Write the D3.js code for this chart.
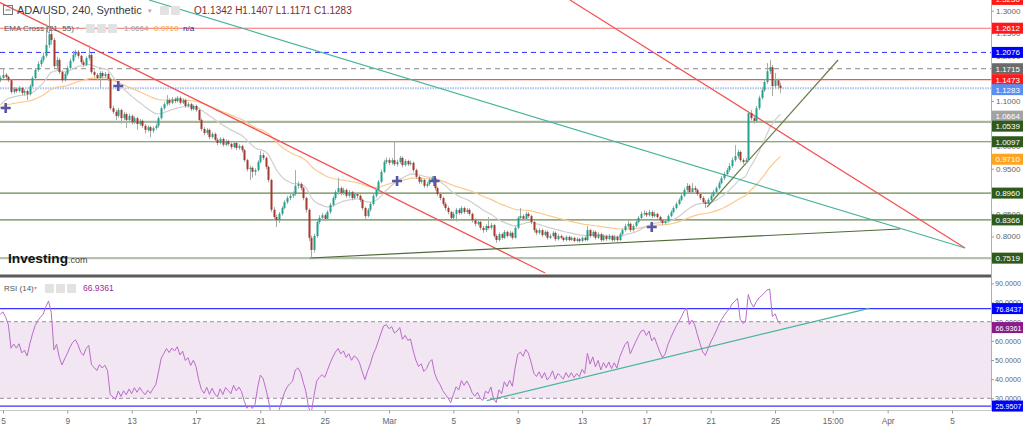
<!DOCTYPE html>
<html><head><meta charset="utf-8">
<script src="https://cdn.jsdelivr.net/npm/d3@7/dist/d3.min.js"></script>
<style>
html,body{margin:0;padding:0;background:#fff;overflow:hidden}
svg{display:block;font-family:"Liberation Sans",Arial,sans-serif}
</style></head>
<body><svg id="chart" width="1024" height="431"></svg>
<script>
// ================= DATA =================
const firstCandleTime = "2021-02-04T20:00:00Z";
const candleHours = 4;
// [open, high, low, close]
const candles = [
[1.146,1.156,1.142,1.151],[1.151,1.172,1.148,1.158],[1.158,1.162,1.149,1.153],[1.153,1.156,1.142,1.146],
[1.146,1.149,1.116,1.120],[1.120,1.131,1.116,1.127],[1.127,1.130,1.118,1.122],[1.122,1.133,1.119,1.129],
[1.129,1.131,1.113,1.118],[1.118,1.126,1.112,1.122],[1.122,1.125,1.102,1.115],[1.115,1.137,1.112,1.133],
[1.133,1.155,1.130,1.151],[1.151,1.173,1.147,1.169],[1.169,1.188,1.165,1.182],[1.182,1.197,1.176,1.191],
[1.191,1.208,1.186,1.200],[1.200,1.270,1.196,1.224],[1.224,1.292,1.218,1.248],[1.248,1.262,1.225,1.235],
[1.235,1.240,1.172,1.177],[1.177,1.198,1.168,1.191],[1.191,1.195,1.160,1.164],[1.164,1.168,1.141,1.146],
[1.146,1.164,1.143,1.160],[1.160,1.178,1.156,1.173],[1.173,1.194,1.170,1.189],[1.189,1.211,1.185,1.202],
[1.202,1.214,1.197,1.209],[1.209,1.213,1.194,1.200],[1.200,1.203,1.181,1.186],[1.186,1.191,1.175,1.180],
[1.180,1.199,1.177,1.195],[1.195,1.224,1.190,1.202],[1.202,1.206,1.160,1.164],[1.164,1.168,1.152,1.158],
[1.158,1.162,1.146,1.151],[1.151,1.166,1.129,1.162],[1.162,1.166,1.150,1.155],[1.155,1.164,1.151,1.160],
[1.160,1.163,1.144,1.149],[1.149,1.152,1.080,1.084],[1.084,1.090,1.071,1.076],[1.076,1.081,1.058,1.067],
[1.067,1.085,1.063,1.080],[1.080,1.083,1.050,1.062],[1.062,1.076,1.058,1.071],[1.071,1.074,1.040,1.058],
[1.058,1.072,1.054,1.067],[1.067,1.070,1.048,1.053],[1.053,1.066,1.049,1.062],[1.062,1.065,1.036,1.049],
[1.049,1.060,1.045,1.056],[1.056,1.059,1.040,1.045],[1.045,1.049,1.028,1.036],[1.036,1.046,1.032,1.042],
[1.042,1.045,1.020,1.034],[1.034,1.044,1.029,1.040],[1.040,1.050,1.036,1.045],[1.045,1.066,1.041,1.062],
[1.062,1.088,1.059,1.084],[1.084,1.098,1.080,1.093],[1.093,1.113,1.089,1.102],[1.102,1.106,1.091,1.096],
[1.096,1.109,1.093,1.104],[1.104,1.108,1.095,1.100],[1.100,1.111,1.097,1.107],[1.107,1.110,1.092,1.096],
[1.096,1.106,1.093,1.102],[1.102,1.105,1.085,1.089],[1.089,1.098,1.086,1.093],[1.093,1.096,1.078,1.082],
[1.082,1.092,1.079,1.089],[1.089,1.092,1.076,1.080],[1.080,1.083,1.054,1.058],[1.058,1.061,1.033,1.038],
[1.038,1.042,1.024,1.029],[1.029,1.040,1.025,1.036],[1.036,1.039,1.015,1.020],[1.020,1.031,1.017,1.027],
[1.027,1.030,1.009,1.014],[1.014,1.018,1.002,1.007],[1.007,1.020,1.004,1.016],[1.016,1.019,0.999,1.003],
[1.003,1.015,1.000,1.011],[1.011,1.014,1.001,1.005],[1.005,1.008,0.993,0.998],[0.998,1.011,0.995,1.007],
[1.007,1.010,0.991,0.996],[0.996,1.004,0.992,1.000],[1.000,1.003,0.986,0.991],[0.991,0.994,0.965,0.969],
[0.969,0.972,0.944,0.949],[0.949,0.957,0.925,0.952],[0.952,0.955,0.930,0.943],[0.943,0.951,0.935,0.947],
[0.947,0.969,0.944,0.965],[0.965,0.989,0.962,0.980],[0.980,0.985,0.969,0.974],[0.974,0.977,0.949,0.954],
[0.954,0.957,0.920,0.925],[0.925,0.928,0.854,0.859],[0.859,0.865,0.835,0.843],[0.843,0.848,0.821,0.836],
[0.836,0.854,0.830,0.850],[0.850,0.867,0.846,0.863],[0.863,0.880,0.860,0.876],[0.876,0.890,0.872,0.885],
[0.885,0.896,0.880,0.890],[0.890,0.900,0.885,0.894],[0.894,0.947,0.890,0.912],[0.912,0.922,0.906,0.916],
[0.916,0.920,0.902,0.907],[0.907,0.910,0.880,0.885],[0.885,0.888,0.853,0.859],[0.859,0.862,0.790,0.797],
[0.797,0.802,0.752,0.770],[0.770,0.806,0.764,0.801],[0.801,0.837,0.797,0.832],[0.832,0.847,0.827,0.841],
[0.841,0.852,0.836,0.847],[0.847,0.851,0.834,0.839],[0.839,0.858,0.835,0.854],[0.854,0.874,0.850,0.870],
[0.870,0.889,0.866,0.885],[0.885,0.903,0.881,0.898],[0.898,0.930,0.893,0.907],[0.907,0.911,0.891,0.896],
[0.896,0.908,0.892,0.903],[0.903,0.906,0.885,0.890],[0.890,0.903,0.886,0.898],[0.898,0.901,0.880,0.885],
[0.885,0.899,0.882,0.894],[0.894,0.897,0.885,0.890],[0.890,0.893,0.876,0.881],[0.881,0.884,0.858,0.863],
[0.863,0.866,0.839,0.845],[0.845,0.863,0.842,0.859],[0.859,0.876,0.855,0.872],[0.872,0.894,0.868,0.890],
[0.890,0.907,0.886,0.903],[0.903,0.925,0.899,0.921],[0.921,0.948,0.918,0.943],[0.943,0.970,0.940,0.965],
[0.965,0.975,0.960,0.969],[0.969,0.974,0.958,0.963],[0.963,0.974,0.959,0.969],[0.969,1.010,0.956,0.960],
[0.960,0.970,0.955,0.965],[0.965,0.978,0.961,0.974],[0.974,0.977,0.953,0.958],[0.958,0.971,0.955,0.967],
[0.967,0.970,0.956,0.960],[0.960,0.968,0.957,0.963],[0.963,0.966,0.942,0.947],[0.947,0.950,0.927,0.932],
[0.932,0.935,0.916,0.921],[0.921,0.930,0.917,0.925],[0.925,0.928,0.907,0.912],[0.912,0.921,0.908,0.916],
[0.916,0.930,0.912,0.925],[0.925,0.934,0.920,0.929],[0.929,0.932,0.902,0.907],[0.907,0.910,0.889,0.894],
[0.894,0.898,0.880,0.885],[0.885,0.888,0.867,0.872],[0.872,0.876,0.857,0.863],[0.863,0.867,0.849,0.854],
[0.854,0.857,0.834,0.841],[0.841,0.855,0.837,0.850],[0.850,0.863,0.833,0.859],[0.859,0.863,0.848,0.852],
[0.852,0.867,0.849,0.863],[0.863,0.866,0.850,0.854],[0.854,0.863,0.850,0.859],[0.859,0.862,0.846,0.850],
[0.850,0.853,0.831,0.836],[0.836,0.840,0.822,0.828],[0.828,0.837,0.824,0.832],[0.832,0.835,0.814,0.819],
[0.819,0.823,0.808,0.814],[0.814,0.827,0.810,0.823],[0.823,0.843,0.815,0.819],[0.819,0.830,0.815,0.825],
[0.825,0.828,0.797,0.801],[0.801,0.805,0.786,0.792],[0.792,0.809,0.789,0.805],[0.805,0.808,0.793,0.797],
[0.797,0.814,0.794,0.810],[0.810,0.813,0.797,0.801],[0.801,0.812,0.798,0.808],[0.808,0.811,0.793,0.797],
[0.797,0.823,0.795,0.819],[0.819,0.845,0.816,0.841],[0.841,0.863,0.837,0.845],[0.845,0.849,0.835,0.839],
[0.839,0.855,0.836,0.850],[0.850,0.854,0.841,0.845],[0.845,0.848,0.827,0.832],[0.832,0.835,0.809,0.814],
[0.814,0.818,0.803,0.808],[0.808,0.818,0.804,0.814],[0.814,0.817,0.799,0.803],[0.803,0.814,0.800,0.810],
[0.810,0.813,0.793,0.797],[0.797,0.806,0.794,0.801],[0.801,0.812,0.798,0.808],[0.808,0.811,0.790,0.794],
[0.794,0.805,0.791,0.801],[0.801,0.804,0.794,0.797],[0.797,0.800,0.788,0.792],[0.792,0.802,0.789,0.799],
[0.799,0.802,0.789,0.792],[0.792,0.800,0.790,0.797],[0.797,0.799,0.787,0.790],[0.790,0.798,0.787,0.794],
[0.794,0.797,0.786,0.790],[0.790,0.800,0.787,0.797],[0.797,0.800,0.789,0.792],[0.792,0.823,0.790,0.814],
[0.814,0.817,0.797,0.801],[0.801,0.814,0.798,0.810],[0.810,0.813,0.793,0.797],[0.797,0.809,0.794,0.805],
[0.805,0.808,0.788,0.792],[0.792,0.805,0.789,0.801],[0.801,0.804,0.790,0.794],[0.794,0.805,0.791,0.801],
[0.801,0.804,0.788,0.792],[0.792,0.803,0.789,0.799],[0.799,0.802,0.788,0.792],[0.792,0.809,0.790,0.805],
[0.805,0.818,0.802,0.814],[0.814,0.828,0.811,0.823],[0.823,0.836,0.819,0.828],[0.828,0.831,0.810,0.814],
[0.814,0.827,0.811,0.823],[0.823,0.836,0.820,0.832],[0.832,0.845,0.829,0.841],[0.841,0.855,0.838,0.850],
[0.850,0.858,0.846,0.852],[0.852,0.856,0.843,0.847],[0.847,0.859,0.844,0.854],[0.854,0.858,0.841,0.845],
[0.845,0.855,0.842,0.850],[0.850,0.853,0.839,0.843],[0.843,0.846,0.832,0.836],[0.836,0.839,0.825,0.830],
[0.830,0.838,0.826,0.834],[0.834,0.849,0.831,0.845],[0.845,0.858,0.842,0.854],[0.854,0.867,0.851,0.863],
[0.863,0.876,0.860,0.872],[0.872,0.885,0.869,0.881],[0.881,0.895,0.878,0.890],[0.890,0.908,0.887,0.903],
[0.903,0.918,0.899,0.912],[0.912,0.915,0.894,0.898],[0.898,0.918,0.895,0.907],[0.907,0.912,0.898,0.903],
[0.903,0.906,0.890,0.894],[0.894,0.897,0.881,0.885],[0.885,0.889,0.872,0.876],[0.876,0.880,0.863,0.872],
[0.872,0.885,0.869,0.881],[0.881,0.894,0.878,0.890],[0.890,0.903,0.887,0.898],[0.898,0.911,0.895,0.907],
[0.907,0.923,0.904,0.918],[0.918,0.934,0.915,0.929],[0.929,0.943,0.925,0.938],[0.938,0.952,0.934,0.947],
[0.947,0.962,0.943,0.956],[0.956,0.975,0.952,0.969],[0.969,1.002,0.965,0.978],[0.978,0.992,0.973,0.987],
[0.987,0.990,0.964,0.969],[0.969,0.973,0.960,0.965],[0.965,0.974,0.961,0.969],[0.969,1.078,0.965,1.073],
[1.073,1.080,1.057,1.062],[1.062,1.067,1.050,1.056],[1.056,1.089,1.052,1.084],[1.084,1.112,1.080,1.107],
[1.107,1.130,1.103,1.124],[1.124,1.148,1.120,1.142],[1.142,1.184,1.138,1.166],[1.166,1.191,1.160,1.175],
[1.175,1.180,1.111,1.133],[1.133,1.162,1.128,1.146],[1.146,1.150,1.126,1.1342],[1.1342,1.1407,1.1171,1.1283]
];
const emaPeriods = [21, 55];
const emaSeeds = [1.085, 1.083];       // indicator values just before the first candle
const rsiPeriod = 14;
const rsiSeed = [0.0075, 0.0028];      // average gain / loss before the first candle
const crossIndex = [2, 44, 148, 162, 243];
const crossPrice = [1.0845, 1.1332, 0.9228, 0.9228, 0.8209];

const levelValues = [1.2612, 1.2076, 1.1715, 1.1473, 1.1283, 1.0539, 1.0097, 0.8960, 0.8366, 0.7519];
const axisLabelValues = [1.3250, 1.2612, 1.2076, 1.1715, 1.1473, 1.1283, 1.0664, 1.0539, 1.0097, 0.9710, 0.8960, 0.8366, 0.7519];
const priceTicks = [0.75, 0.80, 0.85, 0.90, 0.95, 1.00, 1.05, 1.10, 1.15, 1.20, 1.25, 1.30];
const rsiTicks = [30, 40, 50, 60, 70, 80, 90];
const rsiBand = [30, 70];
const rsiLevelValues = [76.8437, 25.9507];
const rsiLabelValues = [76.8437, 66.9361, 25.9507];

const trendFrom = ["2021-02-04T12:00Z", "2021-03-12T06:00Z", "2021-02-14T02:00Z", "2021-02-24T02:00Z", "2021-03-20T18:30Z"];
const trendFromPrice = [1.3237, 1.3237, 1.3237, 0.7522, 0.8652];
const trendTo = ["2021-03-10T17:00Z", "2021-04-05T19:30Z", "2021-04-05T19:30Z", "2021-04-01T18:30Z", "2021-03-28T22:00Z"];
const trendToPrice = [0.719, 0.7744, 0.7744, 0.8165, 1.1908];
const rsiTrendFrom = ["2021-03-07T01:40Z", 28.75];
const rsiTrendTo = ["2021-03-30T20:10Z", 77.0];

const timeTickDates = ["2021-02-05", "2021-02-09", "2021-02-13", "2021-02-17", "2021-02-21", "2021-02-25", "2021-03-01", "2021-03-05", "2021-03-09", "2021-03-13", "2021-03-17", "2021-03-21", "2021-03-25", "2021-03-28T14:00Z", "2021-04-01", "2021-04-05"];
const timeTickLabels = ["5", "9", "13", "17", "21", "25", "Mar", "5", "9", "13", "17", "21", "25", "15:00", "Apr", "5"];

const title = "ADA/USD, 240, Synthetic";
const ohlcText = "O1.1342 H1.1407 L1.1171 C1.1283";
const emaLegend = ["EMA Cross (21, 55)", "1.0664", "0.9710", "n/a"];
const rsiLegend = ["RSI (14)", "66.9361"];

// ================= STYLES =================
const levelStyles = [
  {c:"#f46e6e", w:1.1}, {c:"#2f2fff", w:1, d:"5,4"}, {c:"#8a8a8a", w:1, d:"5,4"}, {c:"#f25656", w:1.2},
  {c:"#a9c3f3", w:2, d:"1.5,1"}, {c:"#a7b59f", w:2.2}, {c:"#67884f", w:1.2}, {c:"#67884f", w:1.2},
  {c:"#67884f", w:1.2}, {c:"#b6c1ae", w:2.2}
];
const labelColors = ["#ff1a1a","#ff1a1a","#0000ff","#6b6b6b","#ff1a1a","#5a8ef0","#a3a3a3","#2f5a1b","#2f5a1b","#ffa41f","#2f5a1b","#2f5a1b","#2f5a1b"];
const rsiLabelColors = ["#0000ff", "#8c1a8c", "#0000ff"];
const trendColors = ["#f45050", "#f45050", "#48b59c", "#4d6b3a", "#6b7f4c"];
const UP = "#21a190", DOWN = "#a5392c", WICK = "#a7aca6";

// ================= SCALES =================
const svg = d3.select("#chart");
const PLOT_R = 991;
const x = d3.scaleUtc().domain([new Date("2021-02-05T00:00Z"), new Date("2021-04-05T00:00Z")]).range([3, 952]);
const y = d3.scaleLinear().domain([0.75, 1.30]).range([259.0, 10.7]);
const yr = d3.scaleLinear().domain([30, 70]).range([398.3, 321.7]);

const t0 = new Date(firstCandleTime).getTime();
const data = candles.map((d, i) => ({t: new Date(t0 + i * candleHours * 3600e3), o: d[0], h: d[1], l: d[2], c: d[3]}));

function ema(seed, n) { const a = 2 / (n + 1); let e = seed; return data.map(d => (e = e + a * (d.c - e))); }
const ema21 = ema(emaSeeds[0], emaPeriods[0]);
const ema55 = ema(emaSeeds[1], emaPeriods[1]);
let ag = rsiSeed[0], al = rsiSeed[1], prev = data[0].o;
const rsi = data.map(d => { const ch = d.c - prev; prev = d.c;
  ag = (ag * (rsiPeriod - 1) + Math.max(ch, 0)) / rsiPeriod;
  al = (al * (rsiPeriod - 1) + Math.max(-ch, 0)) / rsiPeriod;
  return 100 - 100 / (1 + ag / al); });

const defs = svg.append("defs");
defs.append("clipPath").attr("id", "cm").append("rect").attr("x", 0).attr("y", 0).attr("width", PLOT_R).attr("height", 273.5);
defs.append("clipPath").attr("id", "cr").append("rect").attr("x", 0).attr("y", 278).attr("width", PLOT_R).attr("height", 132);

// ================= MAIN PANEL =================
const main = svg.append("g").attr("clip-path", "url(#cm)");
main.selectAll("line.lvl").data(levelValues).join("line")
  .attr("x1", 0).attr("x2", PLOT_R).attr("y1", d => y(d)).attr("y2", d => y(d))
  .attr("stroke", (d, i) => levelStyles[i].c).attr("stroke-width", (d, i) => levelStyles[i].w)
  .attr("stroke-dasharray", (d, i) => levelStyles[i].d || null);

const lineGen = (arr) => d3.line().x((d, i) => x(data[i].t)).y(d => y(d))(arr);
main.append("path").attr("d", lineGen(ema55)).attr("fill", "none").attr("stroke", "#fcc98c").attr("stroke-width", 1.2);
main.append("path").attr("d", lineGen(ema21)).attr("fill", "none").attr("stroke", "#cfcfcf").attr("stroke-width", 1.2);

trendFrom.forEach((f, i) => {
  main.append("line").attr("x1", x(new Date(f))).attr("y1", y(trendFromPrice[i]))
    .attr("x2", x(new Date(trendTo[i]))).attr("y2", y(trendToPrice[i]))
    .attr("stroke", trendColors[i]).attr("stroke-width", 1.2);
});

const cg = main.append("g");
cg.selectAll("line").data(data).join("line")
  .attr("x1", d => Math.round(x(d.t)) + 0.5).attr("x2", d => Math.round(x(d.t)) + 0.5)
  .attr("y1", d => y(d.h)).attr("y2", d => y(d.l)).attr("stroke", WICK).attr("stroke-width", 1);
cg.selectAll("rect").data(data).join("rect")
  .attr("x", d => Math.round(x(d.t)) - 0.5).attr("width", 2)
  .attr("y", d => y(Math.max(d.o, d.c))).attr("height", d => Math.max(1, Math.abs(y(d.o) - y(d.c))))
  .attr("fill", d => d.c >= d.o ? UP : DOWN);

crossIndex.forEach((ci, k) => {
  const cx = x(data[ci].t), cy = y(crossPrice[k]);
  main.append("path").attr("d", `M${cx-5},${cy}H${cx+5}M${cx},${cy-5}V${cy+5}`)
    .attr("stroke", "#5656a8").attr("stroke-width", 2.6);
});

// ================= RSI PANEL =================
const rp = svg.append("g").attr("clip-path", "url(#cr)");
rp.append("rect").attr("x", 0).attr("width", PLOT_R).attr("y", yr(rsiBand[1])).attr("height", yr(rsiBand[0]) - yr(rsiBand[1])).attr("fill", "#f2e6f2");
rp.selectAll("line.b").data(rsiBand).join("line").attr("x1", 0).attr("x2", PLOT_R)
  .attr("y1", d => yr(d)).attr("y2", d => yr(d)).attr("stroke", "#9d8e9d").attr("stroke-dasharray", "4,3");
rp.selectAll("line.l").data(rsiLevelValues).join("line").attr("x1", 0).attr("x2", PLOT_R)
  .attr("y1", d => yr(d)).attr("y2", d => yr(d)).attr("stroke", "#3535ff").attr("stroke-width", 1.3);
rp.append("line").attr("x1", x(new Date(rsiTrendFrom[0]))).attr("y1", yr(rsiTrendFrom[1]))
  .attr("x2", x(new Date(rsiTrendTo[0]))).attr("y2", yr(rsiTrendTo[1])).attr("stroke", "#48b59c").attr("stroke-width", 1.2);
rp.append("path").attr("d", d3.line().x((d, i) => x(data[i].t)).y(d => yr(d))(rsi))
  .attr("fill", "none").attr("stroke", "#bb6ccb").attr("stroke-width", 1);

// separator & frame
svg.append("rect").attr("x", 0).attr("y", 274.5).attr("width", PLOT_R).attr("height", 3).attr("fill", "#5a5a5a");
svg.append("line").attr("x1", PLOT_R + 0.5).attr("x2", PLOT_R + 0.5).attr("y1", 0).attr("y2", 411).attr("stroke", "#b0b0b0");
svg.append("line").attr("x1", 0).attr("x2", PLOT_R).attr("y1", 410.5).attr("y2", 410.5).attr("stroke", "#c8c8c8");

// ================= AXES =================
const fmt4 = d3.format(".4f");
const ay = svg.append("g").attr("transform", `translate(${PLOT_R},0)`)
  .call(d3.axisRight(y).tickValues(priceTicks).tickFormat(fmt4).tickSize(3).tickPadding(2));
const ar = svg.append("g").attr("transform", `translate(${PLOT_R},0)`)
  .call(d3.axisRight(yr).tickValues(rsiTicks).tickFormat(fmt4).tickSize(3).tickPadding(1));
[ay, ar].forEach(g => { g.select(".domain").remove(); g.selectAll("line").attr("stroke", "#999");
  g.selectAll("text").attr("fill", "#666").attr("font-family", "Liberation Sans, Arial"); });
ay.selectAll("text").attr("font-size", 8);
ar.selectAll("text").attr("font-size", 7.2);

const ax = svg.append("g").attr("transform", "translate(0,410.5)")
  .call(d3.axisBottom(x).tickValues(timeTickDates.map(d => new Date(d.length > 10 ? d : d + "T00:00Z")))
    .tickFormat((d, i) => timeTickLabels[i]).tickSize(3).tickPadding(5));
ax.select(".domain").remove();
ax.selectAll("line").attr("stroke", "#999");
ax.selectAll("text").attr("fill", "#666").attr("font-size", 8.3).attr("font-family", "Liberation Sans, Arial");

// value labels on the axis
function drawLabels(vals, scale, colors, minGap, fs) {
  const items = vals.map((v, i) => ({v, c: colors[i], y: scale(v)})).sort((a, b) => a.y - b.y);
  for (let k = 1; k < items.length; k++) if (items[k].y - items[k - 1].y < minGap) items[k].y = items[k - 1].y + minGap;
  const g = svg.append("g");
  items.forEach(it => {
    g.append("rect").attr("x", PLOT_R + 1).attr("y", it.y - 5.5).attr("width", 31).attr("height", 11).attr("fill", it.c);
    g.append("text").attr("x", PLOT_R + 4.5).attr("y", it.y + 3).attr("fill", "#fff").attr("font-size", fs).text(fmt4(it.v));
  });
}
drawLabels(axisLabelValues, y, labelColors, 10, 8);
drawLabels(rsiLabelValues, yr, rsiLabelColors, 10, 7.2);

// ================= LEGENDS =================
function icons(g, x0, yy, n) {
  for (let k = 0; k < n; k++) g.append("rect").attr("x", x0 + k * 11).attr("y", yy - 8).attr("width", 9).attr("height", 9).attr("rx", 1).attr("fill", "#e2e2e2");
}
const lg = svg.append("g");
lg.append("rect").attr("x", 3.5).attr("y", 5.5).attr("width", 9).attr("height", 9).attr("fill", "none").attr("stroke", "#777");
lg.append("line").attr("x1", 5.5).attr("x2", 10.5).attr("y1", 10).attr("y2", 10).attr("stroke", "#777");
lg.append("text").attr("x", 17).attr("y", 14).attr("font-size", 11).attr("fill", "#3a3a3a").text(title);
lg.append("text").attr("x", 148).attr("y", 13).attr("font-size", 7).attr("fill", "#aaa").text("▾");
icons(lg, 160, 14, 2);
lg.append("text").attr("x", 194).attr("y", 14).attr("font-size", 10).attr("fill", "#7a2d2d").text(ohlcText);

lg.append("text").attr("x", 4).attr("y", 31).attr("font-size", 8).attr("fill", "#555").text(emaLegend[0]);
lg.append("text").attr("x", 76).attr("y", 30).attr("font-size", 6).attr("fill", "#aaa").text("▾");
icons(lg, 86, 32, 3);
lg.append("text").attr("x", 124).attr("y", 31).attr("font-size", 8).attr("fill", "#9e9e9e").text(emaLegend[1]);
lg.append("text").attr("x", 154).attr("y", 31).attr("font-size", 8).attr("fill", "#f7a232").text(emaLegend[2]);
lg.append("text").attr("x", 183).attr("y", 31).attr("font-size", 8).attr("fill", "#1b1b8f").text(emaLegend[3]);

lg.append("text").attr("x", 4).attr("y", 291).attr("font-size", 8).attr("fill", "#555").text(rsiLegend[0]);
lg.append("text").attr("x", 34).attr("y", 290).attr("font-size", 6).attr("fill", "#aaa").text("▾");
icons(lg, 45, 292, 3);
lg.append("text").attr("x", 83).attr("y", 291).attr("font-size", 8.5).attr("fill", "#9c2a9c").text(rsiLegend[1]);

const logo = lg.append("text").attr("x", 8).attr("y", 263);
logo.append("tspan").attr("font-size", 13).attr("font-weight", "bold").attr("fill", "#111").attr("textLength", 60).attr("lengthAdjust", "spacingAndGlyphs").text("Investing");
logo.append("tspan").attr("font-size", 9).attr("fill", "#444").text(".com");
</script>
</body></html>
